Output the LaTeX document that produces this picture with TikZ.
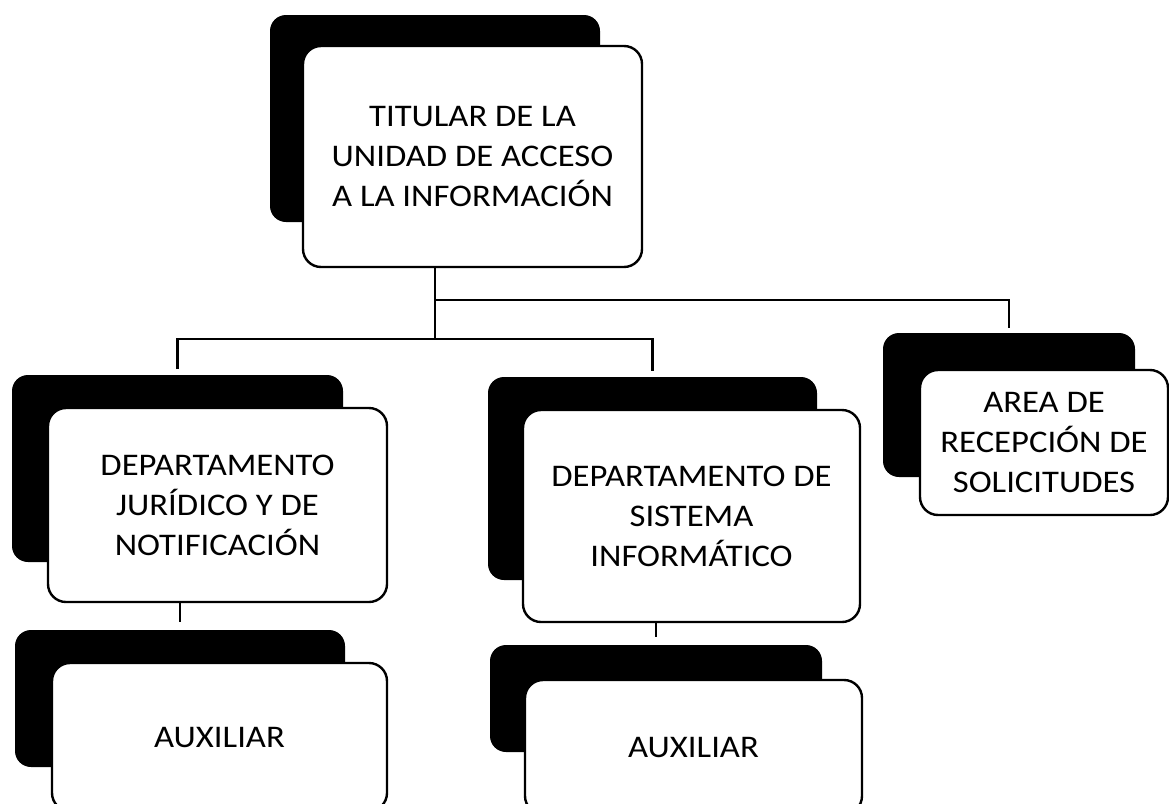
\documentclass[tikz,border=0pt]{standalone}
\usepackage{fontspec}
\setmainfont{Carlito}[FakeStretch=1.1]
\begin{document}
\begin{tikzpicture}[x=1pt,y=-1pt,
  backbox/.style={fill=black, rounded corners=16pt, inner sep=0pt, outer sep=0pt},
  card/.style={draw=black, line width=2.4pt, fill=white, rounded corners=18pt, align=center, inner sep=0pt, outer sep=0pt, font=\fontsize{31.5}{40}\selectfont},
  link/.style={line width=2.6pt}]
\useasboundingbox (0,0) rectangle (1169,803);
\clip (0,0) rectangle (1169,803);
\fill[white] (0,0) rectangle (1169,803);

% shadows
\node[backbox, minimum width=330pt, minimum height=207pt] (topS) at (435,118.5) {};
\node[backbox, minimum width=331pt, minimum height=187pt] (leftS) at (177.5,468.5) {};
\node[backbox, minimum width=329pt, minimum height=203pt] (midS) at (652.5,478.5) {};
\node[backbox, minimum width=252pt, minimum height=144pt] (rightS) at (1009,405) {};
\node[backbox, minimum width=330pt, minimum height=137pt] (auxLS) at (180,698.5) {};
\node[backbox, minimum width=332pt, minimum height=107pt] (auxMS) at (656,698.5) {};

% boxes
\node[card, minimum width=339pt, minimum height=221pt] (top) at (472.5,156.5) {TITULAR DE LA\\UNIDAD DE ACCESO\\A LA INFORMACIÓN};
\node[card, minimum width=339pt, minimum height=194pt] (left) at (217.5,505) {DEPARTAMENTO\\JURÍDICO Y DE\\NOTIFICACIÓN};
\node[card, minimum width=337pt, minimum height=212pt] (mid) at (691.5,516) {DEPARTAMENTO DE\\SISTEMA\\INFORMÁTICO};
\node[card, minimum width=248pt, minimum height=145pt] (right) at (1044,442.5) {AREA DE\\RECEPCIÓN DE\\SOLICITUDES};
\node[card, minimum width=335pt, minimum height=148pt] (auxL) at (219.5,737) {AUXILIAR};
\node[card, minimum width=337pt, minimum height=134pt] (auxM) at (693.5,747) {AUXILIAR};

% connectors
\coordinate (ju) at (435,300);
\coordinate (jl) at (435,339);
\draw[link] (top.south -| topS.center) -- (jl);
\draw[link] (ju) -| ([yshift=5pt]rightS.north);
\draw[link] ([yshift=6pt]leftS.north) |- (jl) -| ([yshift=6pt]midS.north);
\draw[link] (left.south -| auxLS.center) -- ([yshift=8pt]auxLS.north);
\draw[link] (mid.south -| auxMS.center) -- ([yshift=8pt]auxMS.north);
\end{tikzpicture}
\end{document}
